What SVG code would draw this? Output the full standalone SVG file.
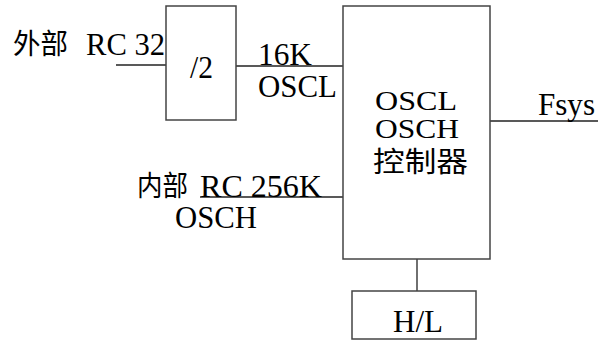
<svg xmlns="http://www.w3.org/2000/svg" width="599" height="340" viewBox="0 0 599 340">
<style>
.box{fill:#fff;stroke:#444;stroke-width:1.5}
.ln{stroke:#222;stroke-width:1.3;fill:none}
.cjk{font-size:28px}
.sm{font-size:28px}
</style>
<rect width="599" height="340" fill="#fff"/>
<g id="connectors">
<line class="ln" x1="116" y1="65" x2="166" y2="65"/>
<line class="ln" x1="236" y1="66" x2="343" y2="66"/>
<line class="ln" x1="200" y1="197" x2="343" y2="197"/>
<line class="ln" x1="490" y1="121" x2="598" y2="121"/>
<line class="ln" x1="417" y1="259" x2="417" y2="291"/>
</g>
<g font-family="Liberation Serif, Noto Sans CJK SC, serif" font-size="31" fill="#000">
<g id="div2">
<rect class="box" x="166" y="6" width="70" height="114"/>
<text x="190" y="78" textLength="23" lengthAdjust="spacingAndGlyphs">/2</text>
</g>
<g id="controller">
<rect class="box" x="343" y="6" width="147" height="253"/>
<text x="375" y="110" class="sm" textLength="82" lengthAdjust="spacingAndGlyphs">OSCL</text>
<text x="375" y="138" class="sm" textLength="84" lengthAdjust="spacingAndGlyphs">OSCH</text>
<text x="373" y="172" class="cjk" textLength="95" lengthAdjust="spacingAndGlyphs">控制器</text>
</g>
<g id="hl">
<rect class="box" x="352" y="291" width="124" height="48"/>
<text x="393" y="332" textLength="50" lengthAdjust="spacingAndGlyphs">H/L</text>
</g>
<g id="labels">
<text x="13" y="54" class="cjk" textLength="55" lengthAdjust="spacingAndGlyphs">外部</text>
<text x="86" y="55" textLength="79" lengthAdjust="spacingAndGlyphs">RC 32</text>
<text x="258" y="65" textLength="54" lengthAdjust="spacingAndGlyphs">16K</text>
<text x="258" y="97" textLength="79" lengthAdjust="spacingAndGlyphs">OSCL</text>
<text x="137" y="196" class="cjk" textLength="51" lengthAdjust="spacingAndGlyphs">内部</text>
<text x="200" y="197" textLength="122" lengthAdjust="spacingAndGlyphs">RC 256K</text>
<text x="175" y="228" textLength="82" lengthAdjust="spacingAndGlyphs">OSCH</text>
<text x="538" y="115" textLength="57" lengthAdjust="spacingAndGlyphs">Fsys</text>
</g>
</g>
</svg>
